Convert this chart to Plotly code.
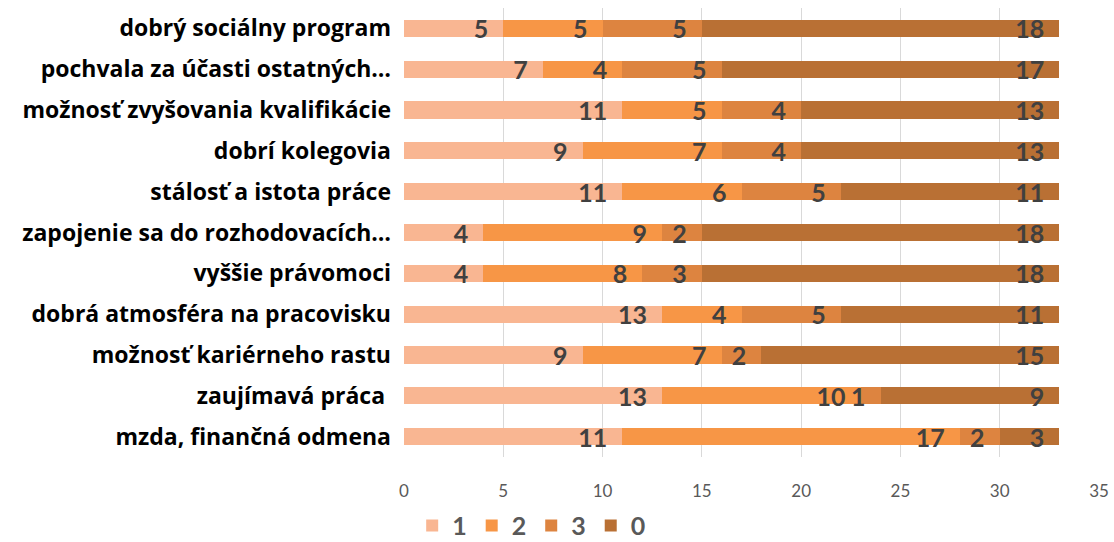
import plotly.graph_objects as go

categories = [
    "dobrý sociálny program",
    "pochvala za účasti ostatných…",
    "možnosť zvyšovania kvalifikácie",
    "dobrí kolegovia",
    "stálosť a istota práce",
    "zapojenie sa do rozhodovacích…",
    "vyššie právomoci",
    "dobrá atmosféra na pracovisku",
    "možnosť kariérneho rastu",
    "zaujímavá práca ",
    "mzda, finančná odmena",
]
series_names = ["1", "2", "3", "0"]
s1 = [5, 7, 11, 9, 11, 4, 4, 13, 9, 13, 11]
s2 = [5, 4, 5, 7, 6, 9, 8, 4, 7, 10, 17]
s3 = [5, 5, 4, 4, 5, 2, 3, 5, 2, 1, 2]
s0 = [18, 17, 13, 13, 11, 18, 18, 11, 15, 9, 3]
colors = ["#F9B692", "#F79646", "#DD8440", "#B97034"]

fig = go.Figure()
for name, vals, col in zip(series_names, [s1, s2, s3, s0], colors):
    fig.add_trace(go.Bar(
        y=categories, x=vals, name=name, orientation="h",
        marker=dict(color=col, line=dict(width=0)),
        texttemplate="%{x}\u00a0\u00a0", textposition="inside",
        insidetextanchor="end", textangle=0, constraintext="none",
        textfont=dict(family="Lato", size=25, color="#404040", weight="bold"),
        cliponaxis=False, hoverinfo="x+name",
    ))

fig.update_layout(
    barmode="stack", bargap=0.58, width=1114, height=542,
    margin=dict(l=404, r=15, t=8, b=85, autoexpand=False),
    plot_bgcolor="white", paper_bgcolor="white",
    legend=dict(orientation="h", xref="container", yref="container",
                x=0.37, xanchor="left", y=0.03, yanchor="middle",
                font=dict(family="Lato", size=25, color="#595959", weight="bold"),
                traceorder="normal", itemwidth=30, bgcolor="rgba(0,0,0,0)"),
    showlegend=True,
)
fig.update_xaxes(range=[0, 35], dtick=5, showgrid=True, gridcolor="#D9D9D9", gridwidth=1,
                 zeroline=False, showline=False, ticks="", automargin=False,
                 ticklabelstandoff=22,
                 tickfont=dict(family="Lato", size=17, color="#595959"))
fig.update_yaxes(autorange="reversed", showgrid=False, ticks="", automargin=False,
                 ticklabelstandoff=12,
                 tickfont=dict(family="Open Sans", size=23, color="#000000", weight="bold"))
fig.write_html("out.html", config={"displayModeBar": False},
               post_script="document.body.style.margin='0';")
